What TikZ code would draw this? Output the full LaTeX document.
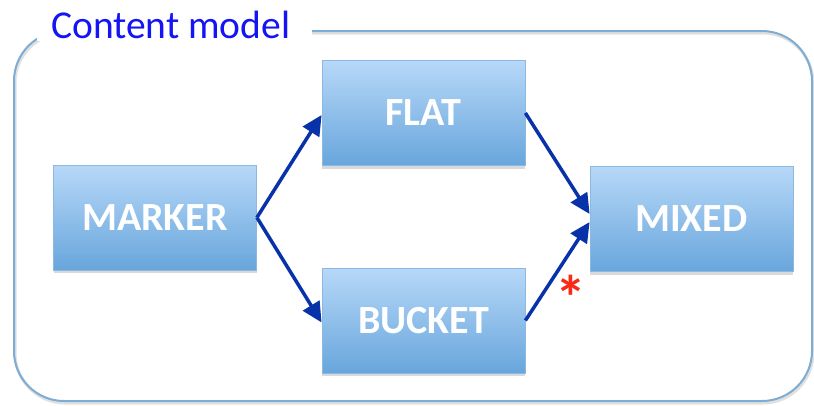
\documentclass[tikz,border=0pt]{standalone}
\usepackage{fontspec}
\setmainfont{Carlito}
\usetikzlibrary{arrows.meta,shadows,calc}
\definecolor{frameblue}{RGB}{125,172,212}
\definecolor{boxtop}{RGB}{183,216,248}
\definecolor{boxbot}{RGB}{104,166,220}
\definecolor{boxline}{RGB}{140,185,225}
\definecolor{arrowblue}{RGB}{8,50,170}
\definecolor{titleblue}{RGB}{20,20,245}
\definecolor{starred}{RGB}{250,40,20}
\tikzset{
  stagebox/.style={minimum width=203pt,minimum height=105pt,inner sep=0pt,
    top color=boxtop,bottom color=boxbot,draw=boxline,line width=0.8pt,
    drop shadow={shadow xshift=0pt,shadow yshift=-3pt,opacity=0.3},
    text=white,font=\fontsize{40}{42}\selectfont\bfseries},
  flow/.style={draw=arrowblue,line width=3.5pt,-{Triangle[length=20pt,width=19pt]}},
  framepath/.style={rounded corners=50pt}
}
\begin{document}
\begin{tikzpicture}[x=1pt,y=-1pt]
\useasboundingbox (0,0) rectangle (814,405);
% outer frame with faint shadow
\draw[black,opacity=0.12,line width=3pt,framepath]
  (15,33) rectangle (813,403);
\draw[frameblue,line width=2pt,framepath]
  (14,31) rectangle (812,401);
\fill[white] (37,0) rectangle (312,41);
\node[anchor=base west,text=titleblue,font=\fontsize{39.5}{42}\selectfont,inner sep=0pt] (title) at (51,38) {Content model};
% boxes
\node[stagebox] (marker) at (155,217.5) {\raisebox{-3pt}{MARKER}};
\node[stagebox] (flat) at (423.5,113) {\raisebox{-3pt}{FLAT}};
\node[stagebox] (bucket) at (423.5,320.5) {\raisebox{-3pt}{BUCKET}};
\node[stagebox] (mixed) at (691.5,219) {\raisebox{-3pt}{MIXED}};
% arrows
\draw[flow] (marker.east) -- ($(flat.west)+(0,2)$);
\draw[flow] (marker.east) -- ($(bucket.west)+(0,2)$);
\draw[flow] (flat.east) -- ($(mixed.west)+(0,-5)$);
\draw[flow] (bucket.east) -- ($(mixed.west)+(0,3)$);
\node[text=starred,font=\fontsize{62}{62}\selectfont\bfseries,inner sep=0pt,anchor=base] (star) at (571,319) {*};
\end{tikzpicture}
\end{document}
